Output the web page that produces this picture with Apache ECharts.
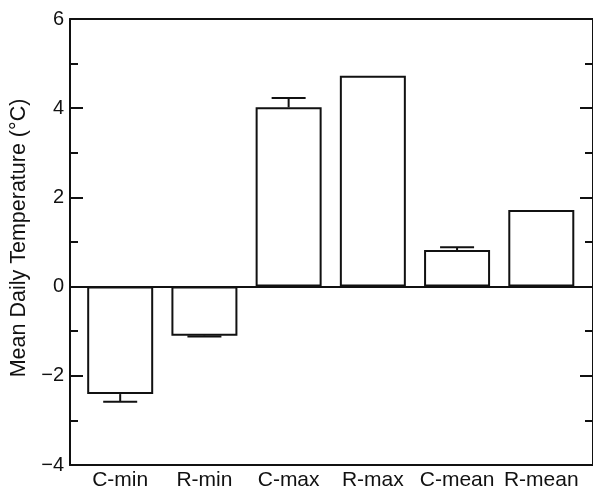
<!DOCTYPE html>
<html>
<head>
<meta charset="utf-8">
<script src="https://cdn.jsdelivr.net/npm/echarts@6/dist/echarts.min.js"></script>
<style>
  html, body { margin: 0; padding: 0; background: #fff; }
  #chart { width: 593px; height: 494px; }
</style>
</head>
<body>
<div id="chart"></div>
<script>
// Mean daily temperature by treatment and statistic
const categories = ['C-min', 'R-min', 'C-max', 'R-max', 'C-mean', 'R-mean'];
const means = [-2.41, -1.10, 4.02, 4.73, 0.82, 1.72];
const errors = [0.17, 0.02, 0.21, 0, 0.06, 0];
const yTicks = [-4, -2, 0, 2, 4, 6];

const FONT = '"Liberation Sans", Arial, Helvetica, sans-serif';
const INK = '#111';

const chart = echarts.init(document.getElementById('chart'), null, { renderer: 'canvas' });

const barData = categories.map((c, i) => [i, means[i]]);
const errData = categories.map((c, i) => [i, means[i], errors[i]]);

const xRange = { min: -0.596, max: 5.614 };

function yAxisBase(pos, showLabels) {
  return {
    type: 'value',
    position: pos,
    min: yTicks[0],
    max: yTicks[yTicks.length - 1],
    interval: 2,
    axisLine: { show: true, onZero: false, lineStyle: { color: INK, width: 2 } },
    axisTick: { show: true, inside: true, length: 13, lineStyle: { color: INK, width: 2 } },
    minorTick: { show: true, splitNumber: 2, length: 8, lineStyle: { color: INK, width: 2 } },
    splitLine: { show: false },
    minorSplitLine: { show: false },
    axisLabel: {
      show: showLabels,
      margin: 6,
      color: INK,
      fontFamily: FONT,
      fontSize: 20,
      formatter: v => String(v).replace('-', '\u2212')
    }
  };
}

const leftAxis = yAxisBase('left', true);
leftAxis.name = 'Mean Daily Temperature (\u00B0C)';
leftAxis.nameLocation = 'middle';
leftAxis.nameGap = 37;
leftAxis.nameTextStyle = { color: INK, fontFamily: FONT, fontSize: 21.5, padding: [0, 0, 0, 8] };

chart.setOption({
  animation: false,
  backgroundColor: '#fff',
  grid: { left: 70, top: 19, width: 526, height: 446, containLabel: false },
  xAxis: [
    {
      type: 'value',
      position: 'bottom',
      min: xRange.min,
      max: xRange.max,
      axisLine: { show: true, onZero: false, lineStyle: { color: INK, width: 2 } },
      axisTick: { show: false },
      splitLine: { show: false },
      axisLabel: {
        show: true,
        customValues: categories.map((c, i) => i),
        margin: 5,
        color: INK,
        fontFamily: FONT,
        fontSize: 21,
        formatter: v => categories[Math.round(v)]
      }
    },
    {
      type: 'value',
      position: 'top',
      min: xRange.min,
      max: xRange.max,
      axisLine: { show: true, onZero: false, lineStyle: { color: INK, width: 2 } },
      axisTick: { show: false },
      axisLabel: { show: false },
      splitLine: { show: false }
    }
  ],
  yAxis: [leftAxis, yAxisBase('right', false)],
  series: [
    {
      type: 'bar',
      xAxisIndex: 0,
      yAxisIndex: 0,
      barWidth: 66,
      data: barData,
      itemStyle: { color: '#fff', borderColor: INK, borderWidth: 2 },
      markLine: {
        silent: true,
        symbol: 'none',
        label: { show: false },
        lineStyle: { color: INK, width: 2, type: 'solid' },
        data: [{ yAxis: 0 }]
      }
    },
    {
      type: 'custom',
      xAxisIndex: 0,
      yAxisIndex: 0,
      data: errData,
      z: 5,
      renderItem: function (params, api) {
        const x = api.value(0);
        const v = api.value(1);
        const e = api.value(2);
        if (!e) return null;
        const end = v + (v < 0 ? -e : e);
        const p0 = api.coord([x, v]);
        const p1 = api.coord([x, end]);
        const half = 17;
        const style = { stroke: INK, lineWidth: 2 };
        return {
          type: 'group',
          children: [
            { type: 'line', shape: { x1: p0[0], y1: p0[1], x2: p1[0], y2: p1[1] }, style },
            { type: 'line', shape: { x1: p1[0] - half, y1: p1[1], x2: p1[0] + half, y2: p1[1] }, style }
          ]
        };
      }
    }
  ]
});
</script>
</body>
</html>
